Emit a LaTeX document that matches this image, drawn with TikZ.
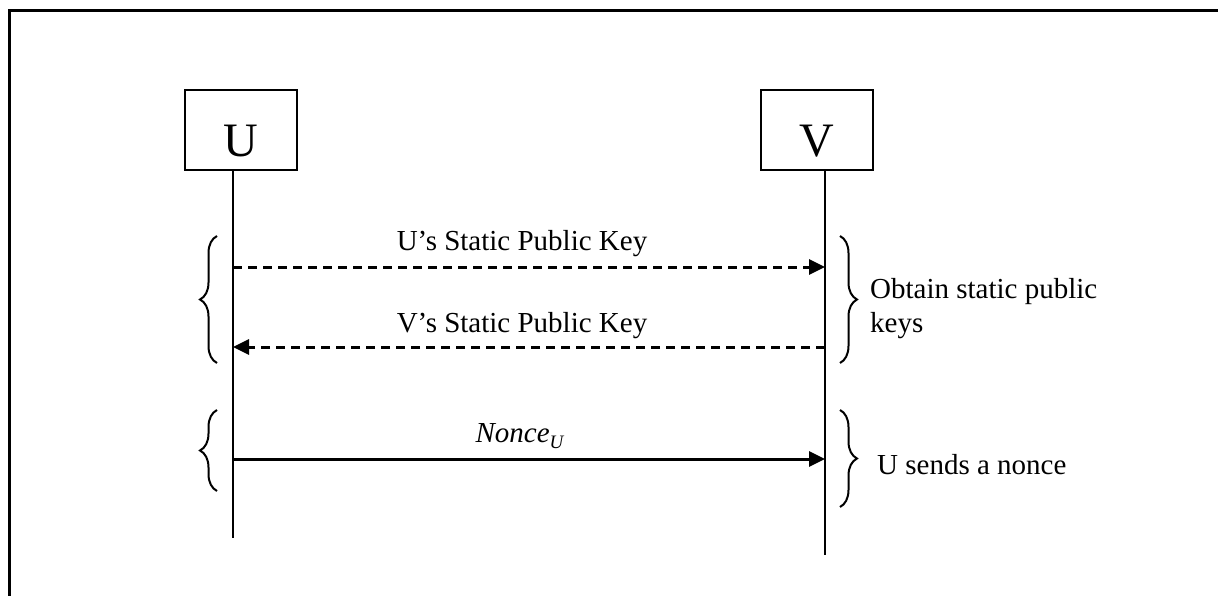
\documentclass[tikz,border=0pt]{standalone}
\usepackage{fontspec}
\setmainfont{Liberation Serif}
\usetikzlibrary{arrows.meta,decorations.pathreplacing}
\begin{document}
\begin{tikzpicture}[x=1pt,y=-1pt,
  party/.style={draw,line width=2.5pt,minimum width=112pt,minimum height=80pt,inner sep=0pt,text height=54pt,text depth=0pt,font=\fontsize{48}{48}\selectfont},
  lifeline/.style={line width=2pt},
  msg/.style={line width=3pt,-{Triangle[length=16pt,width=15pt]}},
  dashmsg/.style={msg,dash pattern=on 9pt off 6pt},
  lbl/.style={inner sep=0pt,anchor=base,font=\fontsize{29}{34}\selectfont},
  note/.style={inner sep=0pt,anchor=base west,align=left,font=\fontsize{29}{34}\selectfont},
  bracel/.style={decorate,decoration={brace,amplitude=17pt},line width=2pt},
  frameline/.style={line width=3pt}]
\useasboundingbox (0,0) rectangle (1218,596);
% frame
\coordinate (fTL) at (9,11);
\coordinate (fTR) at (1218,11);
\coordinate (fBL) at (9,596);
\draw[frameline] (fTR) -- (fTL) -- (fBL);
% parties
\node[party] (U) at (241,130) {U};
\node[party] (V) at (817,130) {V};
% lifelines
\coordinate (uTop) at (233,170);
\coordinate (uBot) at (233,538);
\coordinate (vTop) at (825,170);
\coordinate (vBot) at (825,555);
\draw[lifeline] (uTop) -- (uBot);
\draw[lifeline] (vTop) -- (vBot);
% message points
\coordinate (u1) at (233,267);
\coordinate (v1) at (825,267);
\coordinate (u2) at (233,347);
\coordinate (v2) at (825,347);
\coordinate (u3) at (233,459);
\coordinate (v3) at (825,459);
\draw[dashmsg] (u1) -- (v1);
\draw[dashmsg] (v2) -- (u2);
\draw[msg] (u3) -- (v3);
\node[lbl] (l1) at (522,251) {U’s Static Public Key};
\node[lbl] (l2) at (522,332) {V’s Static Public Key};
\node[lbl] (l3) at (520,442) {\textit{Nonce}\raisebox{-0.22em}{\fontsize{19}{19}\selectfont\textit{U}}};
% braces
\coordinate (bl1a) at (217,363);
\coordinate (bl1b) at (217,236);
\coordinate (br1a) at (840,236);
\coordinate (br1b) at (840,363);
\coordinate (bl2a) at (217,491);
\coordinate (bl2b) at (217,410);
\coordinate (br2a) at (840,410);
\coordinate (br2b) at (840,507);
\draw[bracel] (bl1a) -- (bl1b);
\draw[bracel] (br1a) -- (br1b);
\draw[bracel] (bl2a) -- (bl2b);
\draw[bracel] (br2a) -- (br2b);
\node[note] (n1) at (870,332) {Obtain static public\\keys};
\node[note] (n2) at (877,474) {U sends a nonce};
\end{tikzpicture}
\end{document}
